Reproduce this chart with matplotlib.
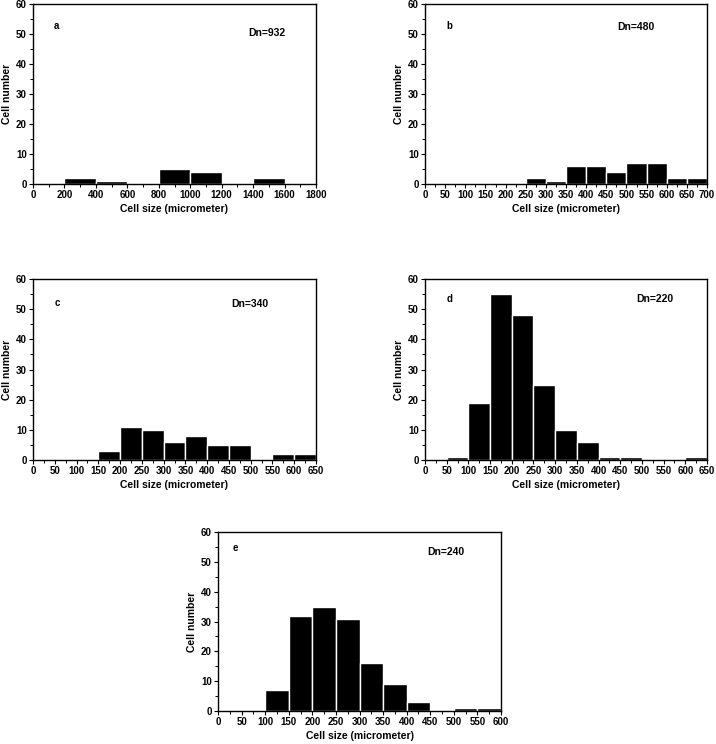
import numpy as np
import matplotlib.pyplot as plt
from matplotlib.ticker import MultipleLocator

plt.rcParams['font.family'] = ['Liberation Sans', 'DejaVu Sans']
plt.rcParams['font.weight'] = 'bold'

# bin left edges and counts for each panel
a_edges = [200, 400, 800, 1000, 1400]
a_counts = [2, 1, 5, 4, 2]
b_edges = [250, 300, 350, 400, 450, 500, 550, 600, 650]
b_counts = [2, 1, 6, 6, 4, 7, 7, 2, 2]
c_edges = [150, 200, 250, 300, 350, 400, 450, 550, 600]
c_counts = [3, 11, 10, 6, 8, 5, 5, 2, 2]
d_edges = [50, 100, 150, 200, 250, 300, 350, 400, 450, 600]
d_counts = [1, 19, 55, 48, 25, 10, 6, 1, 1, 1]
e_edges = [100, 150, 200, 250, 300, 350, 400, 500, 550]
e_counts = [7, 32, 35, 31, 16, 9, 3, 1, 1]

panels = [
    # letter, dn, edges, counts, bin width, xmax, xstep, pixel box (left, top, right, bottom), label pos, dn pos
    ('a', 'Dn=932', a_edges, a_counts, 200, 1800, 200, (33, 4, 316, 184), (0.075, 0.88), (0.76, 0.84)),
    ('b', 'Dn=480', b_edges, b_counts, 50, 700, 50, (425, 4, 707, 184), (0.075, 0.88), (0.68, 0.87)),
    ('c', 'Dn=340', c_edges, c_counts, 50, 650, 50, (33, 279, 316, 460), (0.075, 0.87), (0.70, 0.86)),
    ('d', 'Dn=220', d_edges, d_counts, 50, 650, 50, (425, 279, 707, 460), (0.075, 0.89), (0.75, 0.89)),
    ('e', 'Dn=240', e_edges, e_counts, 50, 600, 50, (218, 532, 501, 711), (0.053, 0.91), (0.74, 0.89)),
]

W, H = 716, 744
fig = plt.figure(figsize=(W / 100, H / 100), dpi=100)

for letter, dn, edges, counts, bw, xmax, xstep, box, lpos, dpos in panels:
    l, t, r, b = box
    ax = fig.add_axes([l / W, 1 - b / H, (r - l) / W, (b - t) / H])
    ax.bar(edges, counts, width=bw, align='edge', color='black',
           edgecolor='white', linewidth=1.0)
    ax.set_xlim(0, xmax)
    ax.set_ylim(0, 60)
    ax.xaxis.set_major_locator(MultipleLocator(xstep))
    ax.xaxis.set_minor_locator(MultipleLocator(xstep / 2))
    ax.yaxis.set_major_locator(MultipleLocator(10))
    ax.yaxis.set_minor_locator(MultipleLocator(5))
    ax.tick_params(which='major', length=3, width=0.8, labelsize=7, pad=1.5)
    ax.tick_params(which='minor', length=2, width=0.7)
    for s in ax.spines.values():
        s.set_linewidth(1.0)
    ax.set_xlabel('Cell size (micrometer)', fontsize=7.5, fontweight='bold', labelpad=3)
    ax.set_ylabel('Cell number', fontsize=7.5, fontweight='bold', labelpad=3)
    ax.text(lpos[0], lpos[1], letter, transform=ax.transAxes, fontsize=7,
            ha='left', va='center')
    ax.text(dpos[0], dpos[1], dn, transform=ax.transAxes, fontsize=7.5,
            fontweight='bold', ha='left', va='center')

fig.savefig('out.png', dpi=100, facecolor='white')
